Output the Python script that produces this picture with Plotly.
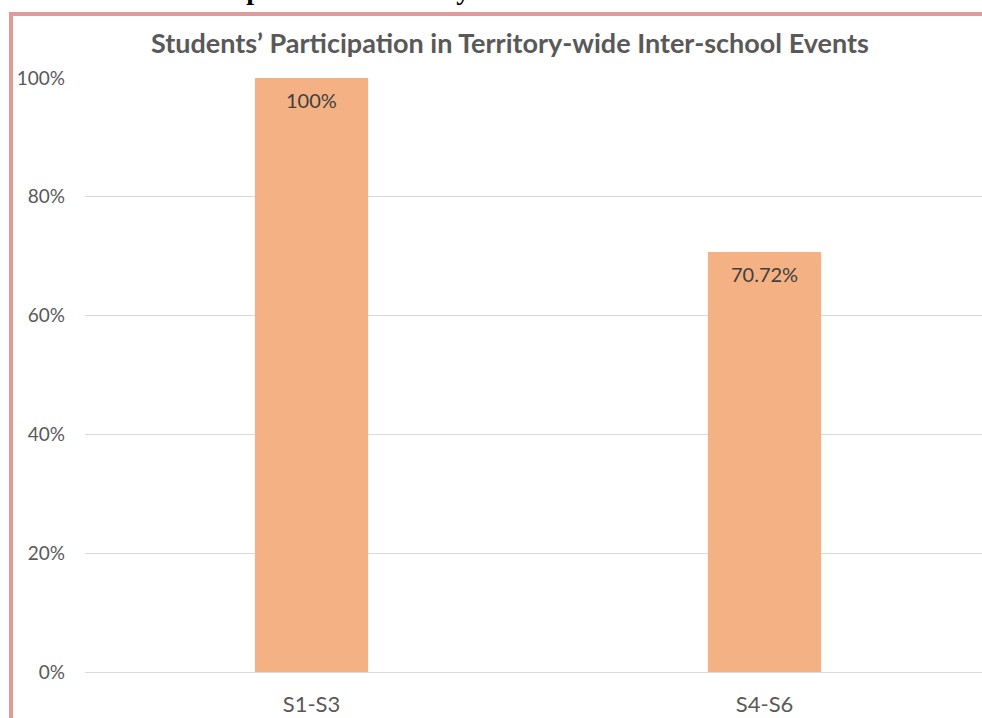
import plotly.graph_objects as go

categories = ["S1-S3", "S4-S6"]
values = [1.0, 0.7072]
value_labels = ["100%", "70.72%"]
tick_vals = [0, 0.2, 0.4, 0.6, 0.8, 1.0]
tick_text = ["0%", "20%", "40%", "60%", "80%", "100%"]
title_text = "Students’ Participation in Territory-wide Inter-school Events"
heading_text = "Students’ Participation in Territory-wide Inter-school Events"

W, H = 982, 718
ML, MR, MT, MB = 85, 0, 78, 46
PW, PH = W - ML - MR, H - MT - MB


def px_x(x):
    return (x - ML) / PW


def px_y(y):
    return (H - MB - y) / PH


bar_color = "#F4B183"
text_gray = "#595959"
label_gray = "#404040"
grid_color = "#D9D9D9"
border_color = "#E09A9A"
FONT = "Lato"

fig = go.Figure()
fig.add_trace(go.Bar(
    x=categories, y=values, width=0.25,
    marker=dict(color=bar_color, line=dict(width=0)),
    hoverinfo="skip", showlegend=False,
))

annotations = []
for c, v, t in zip(categories, values, value_labels):
    annotations.append(dict(
        x=c, y=v, xref="x", yref="y", text=t, showarrow=False,
        yanchor="middle", yshift=-22,
        font=dict(family=FONT, size=20, color=label_gray),
    ))

annotations.append(dict(
    x=px_x(510), y=px_y(42), xref="paper", yref="paper", text="<b>" + title_text + "</b>",
    showarrow=False, xanchor="center", yanchor="middle",
    font=dict(family=FONT, size=27, color=text_gray),
))

annotations.append(dict(
    x=px_x(45), y=px_y(7), xref="paper", yref="paper", text="<b>" + heading_text + "</b>",
    showarrow=False, xanchor="left", yanchor="bottom",
    font=dict(family="Liberation Serif", size=28, color="#000000"),
))

shapes = [
    dict(type="line", xref="paper", yref="paper",
         x0=px_x(9), x1=px_x(990), y0=px_y(14), y1=px_y(14),
         line=dict(color=border_color, width=4)),
    dict(type="line", xref="paper", yref="paper",
         x0=px_x(11), x1=px_x(11), y0=px_y(12), y1=px_y(730),
         line=dict(color=border_color, width=4)),
]

fig.update_layout(
    width=W, height=H,
    margin=dict(l=ML, r=MR, t=MT, b=MB, pad=0),
    paper_bgcolor="white", plot_bgcolor="white",
    annotations=annotations, shapes=shapes,
    bargap=0.75,
    xaxis=dict(
        range=[-0.5, 1.48], showgrid=False, showline=False, zeroline=False,
        ticks="", ticklabelstandoff=17,
        tickfont=dict(family=FONT, size=22, color=text_gray),
        fixedrange=True,
    ),
    yaxis=dict(
        range=[0, 1.0], tickvals=tick_vals, ticktext=tick_text,
        showgrid=True, gridcolor=grid_color, gridwidth=1,
        zeroline=True, zerolinecolor=grid_color, zerolinewidth=1,
        showline=False, ticks="", ticklabelstandoff=19,
        tickfont=dict(family=FONT, size=19, color=text_gray),
        fixedrange=True,
    ),
)

fig.write_html("out.html", config={"displayModeBar": False})
